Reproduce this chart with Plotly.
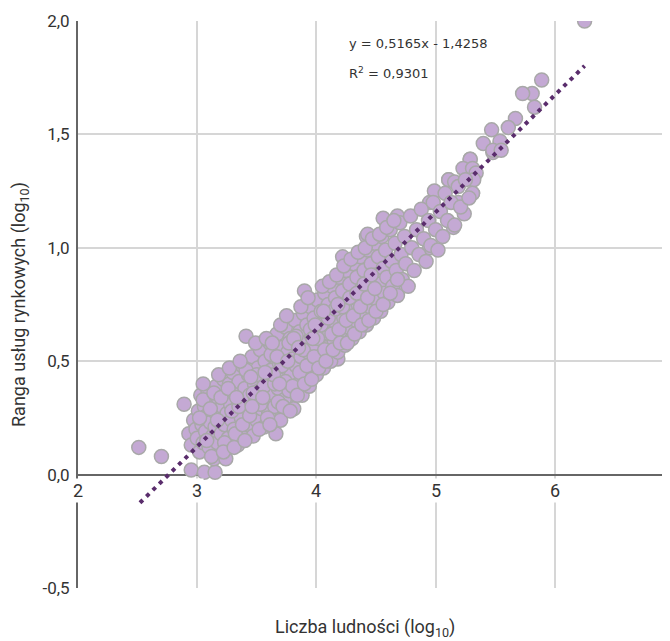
import plotly.graph_objects as go

# Population (log10) and market-services rank (log10)
pop_log = [
    2.51, 2.70, 2.89, 2.95, 3.06, 3.15, 3.14, 3.24, 3.41, 3.66, 3.77, 3.90, 4.22, 4.44, 4.18, 4.42, 4.69,
    4.56, 4.68, 4.43, 5.15, 5.24, 5.31, 4.95, 5.11, 5.29, 5.48, 5.89, 5.81, 5.73, 5.83, 5.67, 5.61, 5.47,
    5.40, 5.54, 5.48, 5.55, 5.29, 5.23, 5.31, 5.34, 5.32, 5.11, 5.16, 4.99, 5.31, 4.95, 5.19, 6.25,
    2.93, 2.95, 2.97, 2.99, 3.00, 3.01, 3.02, 3.03, 3.04, 3.05, 3.06, 3.07, 3.08, 3.09, 3.10, 3.11, 3.12,
    3.13, 3.14, 3.15, 3.16, 3.17, 3.18, 3.19, 3.20, 3.21, 3.22, 3.23, 3.24, 3.25, 3.26, 3.27, 3.28, 3.29,
    3.30, 3.31, 3.32, 3.33, 3.34, 3.35, 3.36, 3.37, 3.38, 3.39, 3.40, 3.41, 3.42, 3.43, 3.44, 3.45, 3.46,
    3.47, 3.48, 3.49, 3.50, 3.51, 3.52, 3.53, 3.54, 3.55, 3.56, 3.57, 3.58, 3.59, 3.60, 3.61, 3.62, 3.63,
    3.64, 3.65, 3.66, 3.67, 3.68, 3.69, 3.70, 3.71, 3.72, 3.73, 3.74, 3.75, 3.76, 3.77, 3.78, 3.79, 3.80,
    3.81, 3.82, 3.83, 3.84, 3.85, 3.86, 3.87, 3.88, 3.89, 3.90, 3.91, 3.92, 3.93, 3.94, 3.95, 3.96, 3.97,
    3.98, 3.99, 4.00, 4.01, 4.02, 4.03, 4.04, 4.05, 4.06, 4.07, 4.08, 4.09, 4.10, 4.11, 4.12, 4.13, 4.14,
    4.15, 4.16, 4.17, 4.18, 4.19, 4.20, 4.21, 4.22, 4.23, 4.24, 4.25, 4.26, 4.27, 4.28, 4.29, 4.30, 4.31,
    4.32, 4.33, 4.34, 4.35, 4.36, 4.37, 4.38, 4.39, 4.40, 4.41, 4.42, 4.43, 4.44, 4.45, 4.46, 4.47, 4.48,
    4.49, 4.50, 4.51, 4.52, 4.53, 4.54, 4.55, 4.56, 4.57, 4.58, 4.59, 4.60, 4.62, 4.63, 4.64, 4.66, 4.67,
    4.68, 4.70, 4.71, 4.72, 4.74, 4.75, 4.77, 4.79, 4.80, 4.82, 4.84, 4.86, 4.88, 4.90, 4.92, 4.94, 4.96,
    4.98, 5.00, 5.02, 5.04, 5.06, 5.08, 5.10, 5.13, 5.16, 5.19, 5.21, 5.25, 5.28,
    3.02, 3.05, 3.08, 3.11, 3.14, 3.17, 3.20, 3.23, 3.26, 3.29, 3.32, 3.35, 3.38, 3.41, 3.44, 3.47, 3.50,
    3.53, 3.56, 3.59, 3.62, 3.65, 3.68, 3.71, 3.74, 3.77, 3.80, 3.83, 3.86, 3.89, 3.92, 3.95, 3.98, 4.01,
    4.04, 4.07, 4.10, 4.13, 4.16, 4.19, 4.22, 4.25, 4.28, 4.31, 4.34, 4.37, 4.40, 4.43, 4.46, 4.49,
    3.05, 3.12, 3.18, 3.22, 3.27, 3.31, 3.36, 3.40, 3.45, 3.49, 3.52, 3.55, 3.58, 3.61, 3.64, 3.67, 3.70,
    3.72, 3.75, 3.78, 3.81, 3.84, 3.87, 3.90, 3.93, 3.96, 3.99, 4.02, 4.05, 4.08, 4.11, 4.14, 4.17, 4.20,
    4.23, 4.26, 4.29, 4.32, 4.35, 4.38, 4.41, 4.44, 4.47, 4.50, 4.53, 4.56, 4.59, 4.62, 4.65, 4.68,
    3.33, 3.46, 3.57, 3.63, 3.69, 3.76, 3.85, 3.97, 4.06, 4.18,
]
rank_log = [
    0.12, 0.08, 0.31, 0.02, 0.01, 0.01, 0.07, 0.07, 0.61, 0.18, 0.30, 0.81, 0.96, 0.70, 0.51, 1.05, 0.83,
    1.13, 1.14, 1.06, 1.09, 1.15, 1.24, 1.00, 1.30, 1.39, 1.42, 1.74, 1.68, 1.68, 1.62, 1.57, 1.53, 1.52,
    1.46, 1.47, 1.43, 1.43, 1.39, 1.35, 1.35, 1.33, 1.30, 1.30, 1.29, 1.25, 1.24, 1.20, 1.20, 2.00,
    0.18, 0.13, 0.24, 0.20, 0.16, 0.28, 0.10, 0.35, 0.22, 0.14, 0.30, 0.19, 0.26, 0.37, 0.12, 0.23, 0.32,
    0.17, 0.28, 0.21, 0.39, 0.14, 0.33, 0.25, 0.18, 0.30, 0.42, 0.22, 0.35, 0.27, 0.16, 0.40, 0.31, 0.24,
    0.45, 0.20, 0.36, 0.29, 0.13, 0.41, 0.33, 0.25, 0.48, 0.19, 0.38, 0.30, 0.22, 0.44, 0.35, 0.27, 0.52,
    0.17, 0.40, 0.32, 0.24, 0.47, 0.37, 0.55, 0.29, 0.43, 0.21, 0.50, 0.34, 0.41, 0.27, 0.58, 0.46, 0.36,
    0.52, 0.30, 0.43, 0.62, 0.38, 0.49, 0.24, 0.56, 0.42, 0.33, 0.65, 0.47, 0.54, 0.37, 0.60, 0.44, 0.51,
    0.29, 0.68, 0.48, 0.57, 0.40, 0.63, 0.52, 0.35, 0.71, 0.58, 0.45, 0.66, 0.54, 0.39, 0.74, 0.61, 0.49,
    0.69, 0.57, 0.44, 0.77, 0.64, 0.52, 0.72, 0.60, 0.47, 0.80, 0.67, 0.56, 0.75, 0.62, 0.50, 0.83, 0.70,
    0.59, 0.78, 0.66, 0.54, 0.87, 0.73, 0.62, 0.81, 0.69, 0.57, 0.90, 0.76, 0.65, 0.84, 0.72, 0.60, 0.93,
    0.79, 0.68, 0.87, 0.75, 0.63, 0.96, 0.82, 0.71, 0.90, 0.78, 0.66, 0.99, 0.85, 0.74, 0.93, 0.81, 0.69,
    1.02, 0.88, 0.77, 0.96, 0.84, 0.72, 1.05, 0.91, 0.80, 0.99, 0.87, 0.76, 1.08, 0.94, 0.83, 1.02, 0.90,
    0.79, 1.11, 0.97, 0.86, 1.05, 0.93, 0.83, 1.14, 1.00, 0.90, 1.08, 0.97, 1.17, 1.04, 0.94, 1.12, 1.01,
    1.20, 1.08, 0.99, 1.16, 1.05, 1.24, 1.12, 1.20, 1.10, 1.27, 1.18, 1.30, 1.22,
    0.25, 0.33, 0.15, 0.29, 0.36, 0.24, 0.34, 0.14, 0.38, 0.28, 0.18, 0.30, 0.22, 0.46, 0.26, 0.36, 0.44,
    0.31, 0.39, 0.25, 0.53, 0.40, 0.32, 0.48, 0.41, 0.58, 0.39, 0.61, 0.45, 0.55, 0.48, 0.64, 0.52, 0.60,
    0.66, 0.55, 0.69, 0.62, 0.73, 0.64, 0.74, 0.68, 0.78, 0.70, 0.80, 0.74, 0.84, 0.78, 0.88, 0.82,
    0.40, 0.08, 0.44, 0.10, 0.47, 0.12, 0.50, 0.15, 0.43, 0.58, 0.20, 0.34, 0.60, 0.22, 0.44, 0.52, 0.66,
    0.30, 0.70, 0.28, 0.60, 0.35, 0.74, 0.40, 0.78, 0.42, 0.66, 0.47, 0.83, 0.50, 0.85, 0.55, 0.88, 0.58,
    0.92, 0.58, 0.95, 0.62, 0.98, 0.66, 1.00, 0.68, 1.04, 0.72, 1.06, 0.75, 1.09, 0.80, 1.12, 0.86,
    0.34, 0.30, 0.45, 0.58, 0.40, 0.50, 0.56, 0.60, 0.72, 0.75,
]

# Linear trend reported on the chart
slope = 0.5165
intercept = -1.4258
trend_x = [2.52, 6.25]
trend_y = [slope * v + intercept for v in trend_x]

x_ticks = [2, 3, 4, 5, 6, 7]
y_ticks = [-0.5, 0.0, 0.5, 1.0, 1.5, 2.0]
y_tick_text = ["-0,5", "0,0", "0,5", "1,0", "1,5", "2,0"]

FONT = "Roboto"
TXT = "#333333"

# The page body adds an 8 px margin, so the figure is sized to fit the window.
OFF = 8
W, H = 670 - OFF, 641 - OFF
ml, mr, mt = 78 - OFF, 0, 21 - OFF
plot_bottom = 588 - OFF
mb = H - plot_bottom
pw, ph = W - ml - mr, H - mt - mb
x_max = 2 + pw / 119.2


def px_to_paper(sx, sy):
    fx, fy = sx - OFF, sy - OFF
    return (fx - ml) / pw, (H - mb - fy) / ph


fig = go.Figure()
fig.add_trace(go.Scatter(
    x=pop_log, y=rank_log, mode="markers",
    marker=dict(size=14, color="#c4a9d4", line=dict(color="#a8a8a8", width=1.5)),
    hoverinfo="x+y",
))
fig.add_trace(go.Scatter(
    x=trend_x, y=trend_y, mode="lines",
    line=dict(color="#5a2d6c", width=4, dash="4px,5px"),
    hoverinfo="skip",
))

annotations = []
for t in x_ticks:
    annotations.append(dict(
        x=t, y=0, xref="x", yref="y", text=str(t), showarrow=False,
        yanchor="top", xanchor="center", yshift=-3, bgcolor="white",
        font=dict(family=FONT, size=18, color=TXT), borderpad=1,
    ))

tx, ty = px_to_paper(365, 628)
annotations.append(dict(
    x=tx, y=ty, xref="paper", yref="paper",
    text="Liczba ludności (log<sub>10</sub>)", showarrow=False,
    xanchor="center", yanchor="middle",
    font=dict(family=FONT, size=18, color=TXT),
))
ex, ey = px_to_paper(347, 43)
annotations.append(dict(
    x=ex, y=ey, xref="paper", yref="paper",
    text="y = 0,5165x - 1,4258", showarrow=False,
    xanchor="left", yanchor="middle",
    font=dict(family="DejaVu Sans", size=13, color=TXT),
))
rx, ry = px_to_paper(347, 73)
annotations.append(dict(
    x=rx, y=ry, xref="paper", yref="paper",
    text="R<sup>2</sup> = 0,9301", showarrow=False,
    xanchor="left", yanchor="middle",
    font=dict(family="DejaVu Sans", size=13, color=TXT),
))

fig.update_layout(
    width=W, height=H,
    margin=dict(l=ml, r=mr, t=mt, b=mb, autoexpand=False),
    paper_bgcolor="white", plot_bgcolor="white",
    showlegend=False,
    font=dict(family=FONT, color=TXT),
    xaxis=dict(
        range=[2, x_max], tickvals=x_ticks, showticklabels=False,
        showgrid=True, gridcolor="#d6d6d6", gridwidth=2,
        zeroline=False, showline=False, ticks="", automargin=False,
    ),
    yaxis=dict(
        range=[-0.5, 2.0], tickvals=y_ticks, ticktext=y_tick_text,
        showgrid=True, gridcolor="#d6d6d6", gridwidth=2,
        zeroline=True, zerolinecolor="#666666", zerolinewidth=2,
        showline=True, linecolor="#666666", linewidth=2,
        ticks="", ticklabelstandoff=3, automargin=False,
        tickfont=dict(family=FONT, size=17, color=TXT),
        title=dict(text="Ranga usług rynkowych (log<sub>10</sub>)",
                   font=dict(family=FONT, size=18, color=TXT), standoff=14),
    ),
    annotations=annotations,
)

fig.write_html("out.html")
